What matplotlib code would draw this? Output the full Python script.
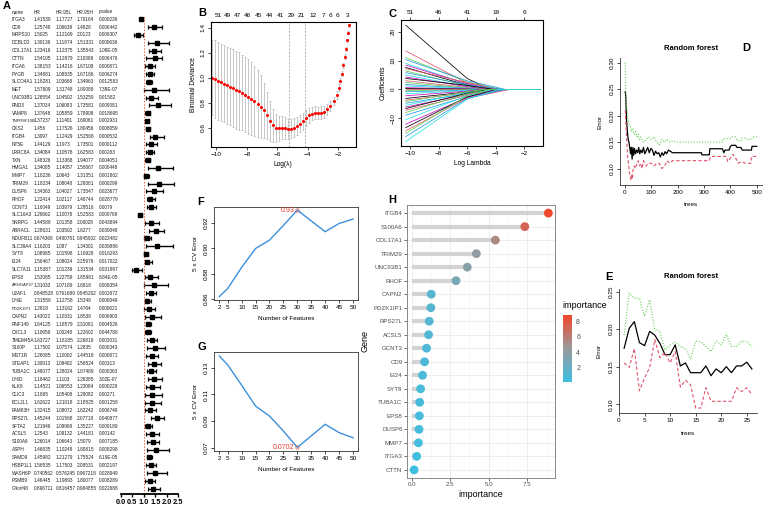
import matplotlib
matplotlib.use("Agg")
import matplotlib.pyplot as plt
import numpy as np
from matplotlib.colors import LinearSegmentedColormap, Normalize
from matplotlib.cm import ScalarMappable

plt.rcParams["font.family"] = ["Liberation Sans", "DejaVu Sans"]

# ---------------- A: univariate Cox table ----------------
genes = ["ITGA3", "CD9", "MRPS10", "DCBLD2", "COL17A1", "CTTN", "ITGA6", "PYGB", "SLCO4A1", "MET",
         "UNC93B1", "RND3", "VAMP8", "TNFRSF10B", "CKS2", "ITGB4", "NT5E", "LRRC8A", "TXN", "HMGA1",
         "MMP7", "TRIM29", "DUSP6", "RHOF", "GCNT3", "SLC16A3", "SNRPG", "ABRACL", "NDUFB11", "SLC39A4",
         "SYT8", "EI24", "SLC7A11", "EPS8", "ARHGAP27", "U2AF1", "LY6E", "PDZK1IP1", "CAPN2", "RNF149",
         "CXCL3", "TMEM45A", "S100P", "MST1R", "STEAP1", "TUBA1C", "LY6D", "KLK8", "CLIC3", "BCL2L1",
         "FAM83H", "RPS27L", "SFTA2", "ACSL5", "S100A6", "ASPH", "SAMD9", "HSBP1L1", "WASH6P", "PSMB9",
         "C4orf48"]
hr = [1.415377, 1.257481, 1.502499, 1.301356, 1.234165, 1.541052, 1.381534, 1.348814, 1.182805, 1.578093,
      1.265539, 1.370344, 1.37648, 1.372372, 1.456, 1.309698, 1.441292, 1.340841, 1.48326, 1.340851,
      1.182356, 1.182342, 1.343633, 1.224136, 1.160492, 1.296623, 1.445889, 1.28631, 0.674368, 1.16203,
      1.089847, 1.564667, 1.153871, 1.530854, 1.310327, 0.848528, 1.315577, 1.2818, 1.430218, 1.641251,
      1.106587, 1.63727, 1.175019, 1.280845, 1.309126, 1.480765, 1.184618, 1.145206, 1.186498, 1.626218,
      1.324155, 1.452442, 1.21946, 1.254298, 1.260141, 1.468347, 1.459818, 1.565347, 0.740562, 1.46445,
      0.896711]
hr_low = [1.177273, 1.066387, 1.121685, 1.118743, 1.123747, 1.128788, 1.142161, 1.088353, 1.036678, 1.317476,
          1.04502, 1.060828, 1.058588, 1.114006, 1.175256, 1.124293, 1.197298, 1.105781, 1.133684, 1.140573,
          1.064299, 1.08048, 1.040268, 1.021174, 1.039788, 1.100777, 1.013582, 1.03502, 0.480781, 1.087,
          1.015985, 1.080243, 1.012386, 1.227588, 1.071892, 0.761689, 1.127581, 1.13162, 1.103308, 1.165785,
          1.002481, 1.181846, 1.075737, 1.100024, 1.094021, 1.28024, 1.110295, 1.065531, 1.054081, 1.210184,
          1.080724, 1.015682, 1.099689, 1.091324, 1.066434, 1.102485, 1.212785, 1.175032, 0.576245, 1.198931,
          0.816457]
hr_high = [1.701637, 1.482805, 2.012297, 1.513313, 1.355432, 2.103886, 1.671075, 1.671855, 1.349631, 1.890883,
           1.532591, 1.735805, 1.789079, 1.690614, 1.80456, 1.52568, 1.735009, 1.625828, 1.940765, 1.580671,
           1.313508, 1.293808, 1.735468, 1.467438, 1.295165, 1.525827, 2.060279, 1.627704, 0.945902, 1.343005,
           1.169293, 2.259758, 1.315343, 1.859808, 1.681805, 0.945262, 1.534904, 1.476396, 1.853803, 2.310815,
           1.226022, 2.268192, 1.283498, 1.445179, 1.565237, 1.874889, 1.263848, 1.230837, 1.290825, 2.185253,
           1.622418, 2.077177, 1.352275, 1.441805, 1.507898, 1.808147, 1.755244, 2.085314, 0.967218, 1.800768,
           0.984855]
pvals = ["0.000239", "0.006442", "0.006307", "0.000636", "1.08E-05", "0.006476", "0.000871", "0.006274",
         "0.012583", "7.38E-07", "0.01582", "0.009081", "0.018695", "0.002931", "0.008059", "0.000532",
         "0.000112", "0.00283", "0.004051", "0.000448", "0.001862", "0.000299", "0.023677", "0.028779",
         "0.0079", "0.000769", "0.043894", "0.039048", "0.022482", "0.039886", "0.016293", "0.017022",
         "0.031997", "8.84E-05", "0.008354", "0.002872", "0.008049", "0.000621", "0.006903", "0.004526",
         "0.044788", "0.003031", "0.000343", "0.000871", "0.00313", "0.000363", "3.02E-07", "0.000229",
         "0.00271", "0.001258", "0.006749", "0.040877", "0.000189", "0.00142", "0.007185", "0.008298",
         "6.19E-05", "0.002197", "0.028949", "0.008289", "0.022688"]

# ---------------- B: cv.glmnet deviance ----------------
b_loglam = [-10.3, -10.1, -9.9, -9.7, -9.5, -9.3, -9.1, -8.9, -8.7, -8.5, -8.3, -8.1, -7.9, -7.7, -7.5,
            -7.3, -7.1, -6.9, -6.7, -6.5, -6.3, -6.1, -5.9, -5.7, -5.5, -5.3, -5.1, -4.9, -4.7, -4.5,
            -4.3, -4.1, -3.9, -3.7, -3.5, -3.3, -3.1, -2.9, -2.7, -2.5, -2.3, -2.1, -1.95, -1.85, -1.75,
            -1.65, -1.55, -1.48, -1.40, -1.32, -1.25]
b_dev = [1.00, 0.99, 0.975, 0.965, 0.955, 0.94, 0.93, 0.92, 0.905, 0.895, 0.88, 0.865, 0.85, 0.835, 0.815,
         0.795, 0.77, 0.74, 0.70, 0.655, 0.62, 0.60, 0.598, 0.603, 0.60, 0.592, 0.594, 0.603, 0.617, 0.635,
         0.655, 0.678, 0.70, 0.715, 0.72, 0.72, 0.722, 0.73, 0.748, 0.775, 0.815, 0.865, 0.92, 0.975, 1.035,
         1.10, 1.17, 1.23, 1.30, 1.36, 1.42]
b_sd = [0.30, 0.31, 0.31, 0.31, 0.31, 0.31, 0.31, 0.31, 0.31, 0.31, 0.30, 0.30, 0.30, 0.29, 0.28,
        0.27, 0.25, 0.22, 0.19, 0.16, 0.13, 0.11, 0.10, 0.09, 0.085, 0.08, 0.075, 0.075, 0.072, 0.07,
        0.068, 0.065, 0.06, 0.055, 0.052, 0.05, 0.05, 0.048, 0.045, 0.04, 0.035, 0.03, 0.028, 0.025, 0.022,
        0.02, 0.018, 0.016, 0.014, 0.012, 0.01]
b_top_pos = [-9.9, -9.25, -8.6, -7.93, -7.21, -6.49, -5.79, -5.07, -4.39, -3.63, -2.97, -2.49, -2.03, -1.40]
b_top_lab = ["51", "49", "47", "46", "45", "44", "41", "29", "21", "12", "7", "6", "6", "3"]
b_vlines = [-5.23, -4.18]

# ---------------- C: lasso coefficient paths ----------------
c_start = [22.2, 13.3, 11.0, 10.3, 9.0, 8.4, 7.6, 7.2, 6.4, 5.8, 5.0, 4.3, 3.8, 3.0, 2.4, 1.7, 1.2, 0.6,
           0.3, 0.0, -0.4, -0.8, -1.5, -2.2, -3.1, -3.7, -4.2, -4.8, -5.5, -6.1, -6.6, -7.2, -8.0, -8.9,
           -10.5, -12.0, -13.2, -14.3, -15.2, -16.3, -18.0]
c_mid = [3.8, 2.2, 2.6, 3.0, 1.8, 2.0, 1.5, 2.4, 1.2, 1.6, 0.9, 1.0, 1.4, 0.7, 0.5, 0.4, 0.3, 0.2,
         0.1, 0.0, -0.1, -0.3, -0.4, -0.6, -0.9, -1.2, -0.8, -1.4, -1.1, -1.7, -1.3, -2.0, -1.5, -2.4,
         -2.1, -2.8, -2.6, -3.0, -2.2, -3.2, -3.4]
c_zero = [-4.4, -4.0, -3.6, -3.3, -4.6, -4.2, -5.0, -3.8, -4.8, -3.4, -5.2, -4.5, -4.1, -5.4, -4.9, -5.1,
          -5.5, -5.3, -5.6, -5.6, -5.4, -5.0, -4.7, -5.2, -4.3, -3.9, -4.9, -4.4, -3.5, -4.0, -4.6, -3.7,
          -4.8, -3.2, -4.2, -3.6, -3.9, -3.0, -4.5, -3.4, -3.8]
c_top_pos = [-10, -8, -6, -4, -2]
c_top_lab = ["51", "46", "41", "19", "6"]

# ---------------- D/E: random forest error ----------------
d_oob_t = [1, 3, 6, 9, 12, 15, 18, 21, 24, 27, 30, 33, 36, 40, 44, 48, 52, 56, 60, 65, 70, 75, 80, 86,
           92, 98, 104, 110, 116, 122, 128, 134, 140, 146, 152, 158, 165, 172, 180, 290, 292, 320, 322,
           370, 375, 380, 395, 400, 405, 420, 425, 440, 445, 480, 482, 500]
d_oob = [0.245, 0.235, 0.19, 0.17, 0.155, 0.15, 0.14, 0.128, 0.14, 0.118, 0.14, 0.125, 0.138, 0.128,
         0.135, 0.13, 0.14, 0.128, 0.135, 0.13, 0.14, 0.128, 0.133, 0.14, 0.13, 0.138, 0.135, 0.125,
         0.133, 0.128, 0.13, 0.122, 0.13, 0.125, 0.132, 0.128, 0.135, 0.133, 0.13, 0.13, 0.126, 0.126,
         0.1375, 0.1375, 0.13, 0.135, 0.135, 0.142, 0.144, 0.144, 0.14, 0.14, 0.135, 0.135, 0.142, 0.142]
d_c1_t = [1, 2, 3, 5, 8, 12, 15, 20, 25, 30, 35, 40, 45, 50, 55, 60, 70, 80, 90, 100, 110, 120, 130,
          140, 150, 160, 170, 180, 200, 370, 375, 400, 405, 420, 425, 440, 445, 460, 465, 480, 485, 500]
d_c1 = [0.30, 0.27, 0.24, 0.22, 0.21, 0.19, 0.185, 0.18, 0.17, 0.175, 0.165, 0.17, 0.16, 0.165, 0.155,
        0.16, 0.15, 0.155, 0.16, 0.155, 0.16, 0.15, 0.145, 0.155, 0.15, 0.155, 0.15, 0.152, 0.15, 0.15,
        0.157, 0.157, 0.16, 0.16, 0.153, 0.153, 0.158, 0.158, 0.155, 0.155, 0.16, 0.16]
d_c2_t = [1, 3, 5, 8, 10, 13, 16, 20, 23, 26, 28, 31, 35, 40, 45, 50, 55, 60, 65, 70, 75, 80, 90, 100,
          110, 120, 130, 140, 150, 160, 170, 180, 320, 325, 385, 390, 400, 410, 420, 430, 440, 460, 478,
          480, 500]
d_c2 = [0.21, 0.19, 0.17, 0.14, 0.12, 0.11, 0.095, 0.085, 0.078, 0.09, 0.08, 0.10, 0.105, 0.10, 0.11,
        0.115, 0.105, 0.11, 0.10, 0.115, 0.11, 0.105, 0.11, 0.11, 0.105, 0.11, 0.11, 0.10, 0.105, 0.115,
        0.11, 0.115, 0.115, 0.123, 0.123, 0.113, 0.12, 0.127, 0.12, 0.11, 0.113, 0.11, 0.11, 0.123, 0.123]

e_trees = list(range(1, 27))
e_oob = [0.1745, 0.201, 0.210, 0.182, 0.178, 0.197, 0.192, 0.181, 0.166, 0.166, 0.179, 0.151, 0.155,
         0.142, 0.142, 0.142, 0.151, 0.138, 0.147, 0.142, 0.150, 0.142, 0.151, 0.151, 0.156, 0.147]
e_c1 = [0.192, 0.248, 0.241, 0.241, 0.217, 0.239, 0.199, 0.197, 0.172, 0.179, 0.183, 0.177, 0.174,
        0.160, 0.184, 0.183, 0.177, 0.170, 0.184, 0.179, 0.193, 0.177, 0.177, 0.184, 0.184, 0.177]
e_c2 = [0.155, 0.149, 0.174, 0.118, 0.135, 0.149, 0.186, 0.162, 0.169, 0.155, 0.170, 0.123, 0.132,
        0.126, 0.095, 0.095, 0.122, 0.104, 0.104, 0.104, 0.104, 0.104, 0.122, 0.117, 0.122, 0.113]

# ---------------- F/G: SVM-RFE ----------------
n_feat = [2, 5, 10, 15, 20, 25, 30, 40, 45, 50]
f_acc = [0.862, 0.8683, 0.885, 0.8998, 0.9064, 0.918, 0.93, 0.913, 0.9195, 0.923]
g_err = [0.1389, 0.1322, 0.117, 0.1013, 0.0938, 0.0825, 0.0702, 0.0876, 0.0813, 0.0775]

# ---------------- H: RF importance ----------------
h_genes = ["ITGB4", "S100A6", "COL17A1", "TRIM29", "UNC93B1", "RHOF", "CAPN2", "PDZK1IP1", "RPS27L",
           "ACSL5", "GCNT3", "CD9", "EI24", "SYT8", "TUBA1C", "EPS8", "DUSP6", "MMP7", "ITGA3", "CTTN"]
h_imp = [8.87, 7.34, 5.43, 4.20, 3.61, 2.88, 1.27, 1.25, 1.14, 1.10, 0.97, 0.84, 0.71, 0.58, 0.52,
         0.50, 0.48, 0.44, 0.33, 0.16]

W, H = 763, 508
fig = plt.figure(figsize=(W / 100, H / 100), dpi=100)


def px_axes(left, top, right, bottom):
    return fig.add_axes([left / W, 1 - bottom / H, (right - left) / W, (bottom - top) / H])


def ftext(x, y, s, **kw):
    fig.text(x / W, 1 - y / H, s, **kw)


def r_style(ax, fs=4.6):
    ax.tick_params(direction="out", length=2.2, width=0.5, labelsize=fs, pad=1.5)
    for sp in ax.spines.values():
        sp.set_linewidth(0.6)
        sp.set_color("#333333")
    for lab in ax.get_yticklabels():
        lab.set_rotation(90)
        lab.set_va("center")


R_RED, R_GREEN = "#DF536B", "#61D04F"
R_PAL = ["black", "#DF536B", "#61D04F", "#2297E6", "#28E2E5", "#CD0BBC"]

# ---------- panel A ----------
ftext(3, 6, "A", fontsize=8, fontweight="bold", va="center")
row0, rstep = 19.3, 7.823
cols_x = [11.5, 33.5, 55.5, 77, 98.5]
for cx, head in zip(cols_x, ["name", "HR", "HR.95L", "HR.95H", "pvalue"]):
    ftext(cx, 12.0, head, fontsize=3.4, va="center", color="#222222")
for i, g in enumerate(genes):
    y = row0 + i * rstep
    vals = [g, f"{hr[i]:g}", f"{hr_low[i]:g}", f"{hr_high[i]:g}", pvals[i]]
    for j, (cx, v) in enumerate(zip(cols_x, vals)):
        fs = 3.0 if (j == 0 and len(v) >= 8) else 3.4
        ftext(cx, y, v, fontsize=fs, va="center", color="#222222")

axf = px_axes(112, 12, 185, 494)
n = len(genes)
fy = (n - 1) - np.arange(n)  # forest rows are drawn in reverse order of the table
hr_a, lo_a, hi_a = np.array(hr), np.array(hr_low), np.array(hr_high)
axf.errorbar(hr_a, fy, xerr=[hr_a - lo_a, hi_a - hr_a], fmt="s", ms=2.2, color="black",
             ecolor="black", elinewidth=1.0, capsize=1.4, capthick=0.9)
axf.axvline(1.0, ymin=0.0, ymax=0.99, color="#E8603C", ls=(0, (1.2, 1.6)), lw=0.8)
axf.set_xlim(-0.377, 2.79)
axf.set_ylim(n - 1 + 0.68, -0.93)
for k in ["top", "left", "right"]:
    axf.spines[k].set_visible(False)
axf.spines["bottom"].set_bounds(0, 2.5)
axf.spines["bottom"].set_linewidth(1.3)
axf.set_yticks([])
axf.set_xticks([0, 0.5, 1.0, 1.5, 2.0, 2.5])
axf.set_xticklabels(["0.0", "0.5", "1.0", "1.5", "2.0", "2.5"], fontweight="bold")
axf.tick_params(axis="x", length=2.5, width=1.0, labelsize=5.3, pad=1)
axf.patch.set_alpha(0)

# ---------- panel B ----------
axb = px_axes(211, 22, 355.7, 146.7)
axb.errorbar(b_loglam, b_dev, yerr=b_sd, fmt="none", ecolor="#B0B0B0", elinewidth=0.5,
             capsize=1.0, capthick=0.5)
axb.scatter(b_loglam, b_dev, s=5, color="#FF0000", zorder=3, linewidths=0)
for v in b_vlines:
    axb.axvline(v, color="#999999", ls=(0, (3, 2)), lw=0.5)
axb.set_xlim(-10.36, -0.84)
axb.set_ylim(0.45, 1.448)
axb.set_xticks([-10, -8, -6, -4, -2])
axb.set_yticks([0.6, 0.8, 1.0, 1.2, 1.4])
axb.set_xlabel("Log(\u03bb)", fontsize=4.8, labelpad=3)
axb.set_ylabel("Binomial Deviance", fontsize=4.8, labelpad=3)
r_style(axb)
axb_t = axb.twiny()
axb_t.set_xlim(axb.get_xlim())
axb_t.set_xticks(b_top_pos)
axb_t.set_xticklabels(b_top_lab)
axb_t.tick_params(length=0, labelsize=4.6, pad=3)
ftext(198, 13, "B", fontsize=8, fontweight="bold", va="center")

# ---------- panel C ----------
axc = px_axes(401, 20, 542.7, 146)
for i in range(len(c_start)):
    xs = [-10.3, -6.0, c_zero[i], -0.9]
    ys = [c_start[i], c_mid[i], 0.0, 0.0]
    axc.plot(xs, ys, color=R_PAL[i % 6], lw=0.55)
axc.set_xlim(-10.63, -0.71)
axc.set_ylim(-19.55, 24.0)
axc.set_xticks([-10, -8, -6, -4, -2])
axc.set_yticks([-10, 0, 10, 20])
axc.set_xlabel("Log Lambda", fontsize=4.8, labelpad=3)
axc.set_ylabel("Coefficients", fontsize=4.8, labelpad=3)
r_style(axc)
axc_t = axc.twiny()
axc_t.set_xlim(axc.get_xlim())
axc_t.set_xticks(c_top_pos)
axc_t.set_xticklabels(c_top_lab)
axc_t.tick_params(direction="out", length=2.0, width=0.5, labelsize=4.6, pad=1.5)
ftext(388, 14, "C", fontsize=8, fontweight="bold", va="center")

# ---------- panel D ----------
axd = px_axes(620, 58, 762, 185)
axd.plot(d_oob_t, d_oob, color="black", lw=0.9)
axd.plot(d_c2_t, d_c2, color=R_RED, lw=0.8, ls=(0, (3, 2)))
axd.plot(d_c1_t, d_c1, color=R_GREEN, lw=0.8, ls=(0, (1, 1.5)))
axd.set_xlim(-19, 520)
axd.set_ylim(0.069, 0.309)
axd.set_xticks([0, 100, 200, 300, 400, 500])
axd.set_yticks([0.10, 0.15, 0.20, 0.25, 0.30])
axd.set_yticklabels(["0.10", "0.15", "0.20", "0.25", "0.30"])
axd.set_xlabel("trees", fontsize=4.6, labelpad=5)
axd.set_ylabel("Error", fontsize=4.6, labelpad=5)
axd.set_title("Random forest", fontsize=5.5, fontweight="bold", pad=6)
r_style(axd)
axd.spines["top"].set_visible(False)
axd.spines["right"].set_visible(False)
ftext(742, 48, "D", fontsize=8, fontweight="bold", va="center")

# ---------- panel E ----------
axe = px_axes(619, 288.5, 757, 413)
axe.plot(e_trees, e_oob, color="black", lw=0.9)
axe.plot(e_trees, e_c2, color=R_RED, lw=0.8, ls=(0, (3, 2)))
axe.plot(e_trees, e_c1, color=R_GREEN, lw=0.8, ls=(0, (1, 1.5)))
axe.set_xlim(0, 27)
axe.set_ylim(0.0884, 0.254)
axe.set_xticks([0, 5, 10, 15, 20, 25])
axe.set_yticks([0.10, 0.15, 0.20, 0.25])
axe.set_yticklabels(["0.10", "0.15", "0.20", "0.25"])
axe.set_xlabel("trees", fontsize=4.6, labelpad=6)
axe.set_ylabel("Error", fontsize=4.6, labelpad=5)
r_style(axe)
axe.spines["top"].set_visible(False)
axe.spines["right"].set_visible(False)
ftext(691, 277, "Random forest", fontsize=5.5, fontweight="bold", ha="center", va="center")
ftext(605, 277, "E", fontsize=8, fontweight="bold", va="center")

# ---------- panels F / G ----------
LINE_BLUE = "#3D8FDC"
for box, vals, lab, yl, yt, fmt in [
        ((214, 206.7, 358.4, 300), f_acc, "F", (0.8593, 0.9327), [0.86, 0.88, 0.90, 0.92], "{:.2f}"),
        ((214, 352.3, 358.4, 451), g_err, "G", (0.0675, 0.1417), [0.07, 0.09, 0.11, 0.13], "{:.2f}")]:
    ax = px_axes(*box)
    ax.plot(n_feat, vals, color=LINE_BLUE, lw=1.0)
    k = n_feat.index(30)
    ax.plot(n_feat[k], vals[k], "o", mfc="none", mec="#E05050", ms=2.5, mew=0.5)
    best = "0.93" if lab == "F" else "0.0702"
    ax.text(n_feat[k] - 1.0, vals[k], best, color="#E53935", fontsize=5, ha="right", va="center")
    ax.set_xlim(0.08, 51.92)
    ax.set_ylim(*yl)
    ax.set_xticks([2, 5, 10, 15, 20, 25, 30, 35, 40, 45, 50])
    ax.set_yticks(yt)
    ax.set_yticklabels([fmt.format(t) for t in yt])
    ax.set_xlabel("Number of Features", fontsize=4.6, labelpad=4)
    ax.set_ylabel("5 x CV Error", fontsize=4.6, labelpad=4)
    r_style(ax)
    ftext(box[0] - 17, box[1] - 5, lab, fontsize=8, fontweight="bold", va="center")

# ---------- panel H ----------
axh = px_axes(406.7, 205, 555, 478)
cmap = LinearSegmentedColormap.from_list("imp", ["#3FBFE0", "#9A999D", "#F2462C"])
norm = Normalize(vmin=min(h_imp), vmax=max(h_imp))
ypos = np.arange(len(h_genes))[::-1] + 1
axh.set_axisbelow(True)
axh.set_xticks([0, 2.5, 5.0, 7.5])
axh.set_xticks([1.25, 3.75, 6.25, 8.75], minor=True)
axh.set_yticks(ypos)
axh.set_yticklabels(h_genes)
axh.grid(True, which="major", color="#EBEBEB", lw=0.6)
axh.grid(True, which="minor", axis="x", color="#F4F4F4", lw=0.4)
axh.hlines(ypos, 0, h_imp, color="#D3D3D3", lw=3.0, zorder=2)
axh.scatter(h_imp, ypos, s=40, c=h_imp, cmap=cmap, norm=norm, zorder=3, linewidths=0)
axh.set_xlim(-0.32, 9.3)
axh.set_ylim(0.4, len(h_genes) + 0.6)
axh.set_xticklabels(["0.0", "2.5", "5.0", "7.5"])
axh.tick_params(axis="both", which="major", labelsize=4.4, length=2, width=0.5, colors="#333333",
                labelcolor="#4D4D4D", pad=1)
axh.tick_params(axis="both", which="minor", length=0)
for sp in axh.spines.values():
    sp.set_color("#888888")
    sp.set_linewidth(0.7)
axh.set_xlabel("importance", fontsize=6.5, labelpad=2)
axh.set_ylabel("Gene", fontsize=6.5, labelpad=3)
ftext(388, 200, "H", fontsize=8, fontweight="bold", va="center")

cax = px_axes(563, 315, 572, 381.7)
cb = fig.colorbar(ScalarMappable(norm=norm, cmap=cmap), cax=cax)
cb.set_ticks([2, 4, 6, 8])
cb.outline.set_visible(False)
cb.ax.tick_params(labelsize=5, length=2, width=0.5, colors="white", labelcolor="#4D4D4D", pad=1)
ftext(562, 305, "importance", fontsize=6.5, va="center")

fig.savefig("out.png", dpi=100)
